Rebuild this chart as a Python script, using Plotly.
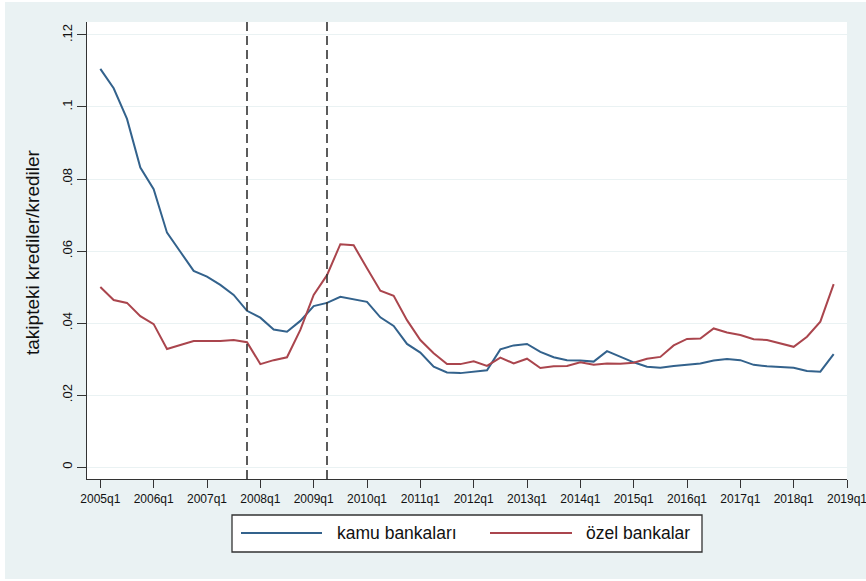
import plotly.graph_objects as go

# Quarterly non-performing loan ratios, 2005q1 - 2018q4
quarters = [f"{y}q{q}" for y in range(2005, 2019) for q in range(1, 5)]

kamu_bankalari = [
    0.1106, 0.1052, 0.0967, 0.0832, 0.0772, 0.0651, 0.0598, 0.0545,
    0.0529, 0.0506, 0.0478, 0.0434, 0.0415, 0.0382, 0.0376, 0.0406,
    0.0447, 0.0456, 0.0473, 0.0465, 0.0459, 0.0416, 0.0392, 0.0342,
    0.0318, 0.0279, 0.0263, 0.0261, 0.0264, 0.0269, 0.0327, 0.0338,
    0.0342, 0.0320, 0.0305, 0.0297, 0.0296, 0.0293, 0.0322, 0.0306,
    0.0291, 0.0279, 0.0276, 0.0281, 0.0285, 0.0288, 0.0296, 0.0300,
    0.0297, 0.0284, 0.0280, 0.0277, 0.0276, 0.0267, 0.0265, 0.0314,
]

ozel_bankalar = [
    0.0500, 0.0464, 0.0456, 0.0419, 0.0397, 0.0328, 0.0339, 0.0350,
    0.0350, 0.0350, 0.0353, 0.0347, 0.0286, 0.0297, 0.0305, 0.0381,
    0.0478, 0.0533, 0.0619, 0.0616, 0.0552, 0.0490, 0.0476, 0.0408,
    0.0353, 0.0316, 0.0286, 0.0286, 0.0294, 0.0281, 0.0304, 0.0288,
    0.0301, 0.0275, 0.0280, 0.0281, 0.0291, 0.0284, 0.0288, 0.0287,
    0.0290, 0.0301, 0.0306, 0.0338, 0.0356, 0.0357, 0.0385, 0.0374,
    0.0367, 0.0355, 0.0353, 0.0344, 0.0334, 0.0362, 0.0404, 0.0508,
]

# Crisis markers: 2007q4 and 2009q2
crisis_quarters = ["2007q4", "2009q2"]

x_tick_labels = [f"{y}q1" for y in range(2005, 2020)]
y_tick_values = [0, 0.02, 0.04, 0.06, 0.08, 0.10, 0.12]
y_tick_labels = ["0", ".02", ".04", ".06", ".08", ".1", ".12"]

series_names = ["kamu bankaları", "özel bankalar"]
series_colors = ["#33628C", "#AA454D"]

t = list(range(len(quarters)))
x_tick_pos = [4 * i for i in range(len(x_tick_labels))]
crisis_pos = [quarters.index(q) for q in crisis_quarters]

FONT = "Liberation Sans, Arial, sans-serif"
BG = "#EAF2F3"

fig = go.Figure()
for name, vals, col in zip(series_names, [kamu_bankalari, ozel_bankalar], series_colors):
    fig.add_trace(go.Scatter(
        x=t, y=vals, mode="lines", name=name,
        line=dict(color=col, width=2), showlegend=False,
    ))

# Plot area geometry in pixels (for paper-coordinate placement)
L, R, T, B = 87, 847, 22, 479
W, H = R - L, B - T


def px_x(p):
    return (p - L) / W


def px_y(p):
    return (B - p) / H


shapes = []
for xp in crisis_pos:
    shapes.append(dict(
        type="line", xref="x", yref="paper", x0=xp, x1=xp, y0=0, y1=1,
        line=dict(color="#333333", width=1.6, dash="9px,5px"), layer="above",
    ))

# Thin white outer edge
for x0, x1, y0, y1 in [(0, 5, 0, 581), (0, 866, 0, 2), (0, 866, 579, 581)]:
    shapes.append(dict(
        type="rect", xref="paper", yref="paper",
        x0=px_x(x0), x1=px_x(x1), y0=px_y(y1), y1=px_y(y0),
        fillcolor="white", line=dict(width=0), layer="below",
    ))

# Legend box
shapes.append(dict(
    type="rect", xref="paper", yref="paper",
    x0=px_x(232), x1=px_x(702), y0=px_y(552), y1=px_y(515),
    fillcolor="white", line=dict(color="#333333", width=1.3), layer="above",
))
legend_y = px_y(533)
annotations = []
for (lx0, lx1, tx), name, col in zip([(241, 322, 335), (490, 572, 584)], series_names, series_colors):
    shapes.append(dict(
        type="line", xref="paper", yref="paper",
        x0=px_x(lx0), x1=px_x(lx1), y0=legend_y, y1=legend_y,
        line=dict(color=col, width=2), layer="above",
    ))
    annotations.append(dict(
        xref="paper", yref="paper", x=px_x(tx), y=legend_y,
        xanchor="left", yanchor="middle", showarrow=False, text=name,
        font=dict(family=FONT, size=17.5, color="#111111"),
    ))

# Y-axis title
annotations.append(dict(
    xref="paper", yref="paper", x=px_x(33), y=px_y(252),
    xanchor="center", yanchor="middle", showarrow=False, textangle=-90,
    text="takipteki krediler/krediler",
    font=dict(family=FONT, size=19, color="#111111"),
))

fig.update_layout(
    width=866, height=581, autosize=False,
    margin=dict(l=L, r=866 - R, t=T, b=581 - B, autoexpand=False),
    paper_bgcolor=BG, plot_bgcolor="white",
    font=dict(family=FONT, color="#111111"),
    shapes=shapes, annotations=annotations,
    xaxis=dict(
        range=[-1, 56], tickmode="array", tickvals=x_tick_pos, ticktext=x_tick_labels,
        ticks="outside", ticklen=8, tickwidth=1.2, tickcolor="#333333",
        showgrid=False, zeroline=False, showline=True, linecolor="#333333", linewidth=1.2,
        tickfont=dict(size=12, family=FONT), tickangle=0, automargin=False,
        ticklabeloverflow="allow",
    ),
    yaxis=dict(
        range=[-0.0033, 0.1236], tickmode="array", tickvals=y_tick_values, ticktext=y_tick_labels,
        ticks="outside", ticklen=9, tickwidth=1.2, tickcolor="#333333",
        showgrid=True, gridcolor=BG, gridwidth=1.2, zeroline=False,
        showline=True, linecolor="#333333", linewidth=1.2,
        tickfont=dict(size=13, family=FONT), tickangle=-90, automargin=False,
    ),
)

fig.write_html("out.html")
